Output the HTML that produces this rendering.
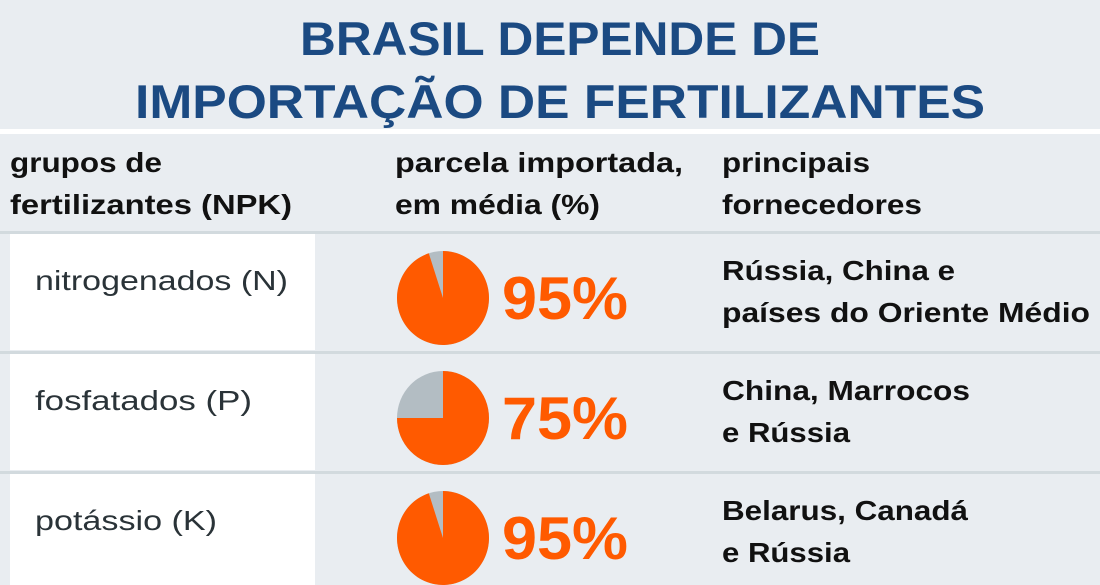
<!DOCTYPE html>
<html><head><meta charset="utf-8"><style>
html,body{margin:0;padding:0;background:#e9edf1;}
svg{display:block;font-family:"Liberation Sans",sans-serif;}
</style></head><body>
<svg width="1100" height="585" viewBox="0 0 1100 585">
<rect x="0" y="0" width="1100" height="585" fill="#e9edf1"/>
<g fill="#1b4a82" font-weight="bold" font-size="47" text-anchor="middle">
<text x="560" y="55" textLength="520" lengthAdjust="spacingAndGlyphs">BRASIL DEPENDE DE</text>
<text x="560" y="118" textLength="850" lengthAdjust="spacingAndGlyphs">IMPORTAÇÃO DE FERTILIZANTES</text>
</g>
<rect x="0" y="129" width="1100" height="5" fill="#ffffff"/>
<g font-weight="bold" font-size="28" fill="#111" lengthAdjust="spacingAndGlyphs">
<text x="10" y="172" textLength="152" lengthAdjust="spacingAndGlyphs">grupos de</text>
<text x="10" y="214" textLength="282" lengthAdjust="spacingAndGlyphs">fertilizantes (NPK)</text>
<text x="395" y="172" textLength="288" lengthAdjust="spacingAndGlyphs">parcela importada,</text>
<text x="395" y="214" textLength="205" lengthAdjust="spacingAndGlyphs">em média (%)</text>
<text x="722" y="172" textLength="148" lengthAdjust="spacingAndGlyphs">principais</text>
<text x="722" y="214" textLength="200" lengthAdjust="spacingAndGlyphs">fornecedores</text>
</g>
<g id="rows"></g>
</svg>
<script>
const groups=["nitrogenados (N)","fosfatados (P)","potássio (K)"];
const shares=[95,75,95];
const suppliers1=["Rússia, China e","China, Marrocos","Belarus, Canadá"];
const suppliers2=["países do Oriente Médio","e Rússia","e Rússia"];
const groupW=[253,217,182];
const sup1W=[233,248,246];
const sup2W=[368,128,128];
const NS="http://www.w3.org/2000/svg";
const g=document.getElementById('rows');
function mk(t,a,p){const e=document.createElementNS(NS,t);for(const k in a)e.setAttribute(k,a[k]);(p||g).appendChild(e);return e;}
const top0=234,rowH=120;
groups.forEach((name,i)=>{
  const y=top0+i*rowH;
  const sep=mk('rect',{x:0,y:y-3,width:1100,height:3,fill:'#d2dade'});
  
  
  const cell=mk('rect',{x:10,y:y,width:305,height:Math.min(116,585-y),fill:'#ffffff'});
  
  
  const t=mk('text',{x:35,y:y+56,'font-size':28,fill:'#2a3338',textLength:groupW[i],lengthAdjust:'spacingAndGlyphs'});t.textContent=name;
  
  
  const cx=443,cy=y+64,rx=46,ry=47;
  const bg=mk('ellipse',{cx:cx,cy:cy,rx:rx,ry:ry,fill:'#b3bdc3'});
  
  
  const a=shares[i]/100*2*Math.PI;
  const ex=cx+rx*Math.sin(a),ey=cy-ry*Math.cos(a);
  const large=shares[i]>50?1:0;
  const p=mk('path',{d:`M${cx},${cy} L${cx},${cy-ry} A${rx},${ry} 0 ${large} 1 ${ex},${ey} Z`,fill:'#ff5a00'});
  
  
  const v=mk('text',{x:502,y:cy+21,'font-size':60,'font-weight':'bold',fill:'#ff5a00',textLength:126,lengthAdjust:'spacingAndGlyphs'});v.textContent=shares[i]+'%';
  
  
  const s1=mk('text',{x:722,y:y+46,'font-size':28,'font-weight':'bold',fill:'#111',textLength:sup1W[i],lengthAdjust:'spacingAndGlyphs'});s1.textContent=suppliers1[i];
  
  
  const s2=mk('text',{x:722,y:y+88,'font-size':28,'font-weight':'bold',fill:'#111',textLength:sup2W[i],lengthAdjust:'spacingAndGlyphs'});s2.textContent=suppliers2[i];
  
  
});
</script>
</body></html>
